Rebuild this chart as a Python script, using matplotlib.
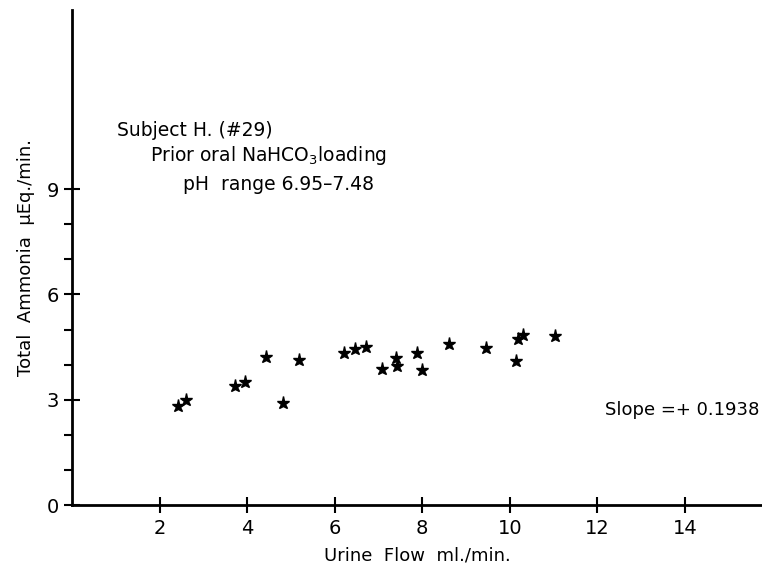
import matplotlib
matplotlib.use("Agg")
import numpy as np
from matplotlib import pyplot as plt
from matplotlib.ticker import FixedLocator

# urine flow (ml/min) and total ammonia (uEq/min)
flow = [2.41, 2.60, 3.72, 3.95, 4.42, 4.83, 5.19, 6.21, 6.47, 6.72, 7.07,
        7.40, 7.42, 7.87, 7.99, 8.60, 9.46, 10.15, 10.18, 10.31, 11.04]
ammonia = [2.81, 2.98, 3.38, 3.50, 4.23, 2.91, 4.13, 4.32, 4.45, 4.49, 3.87,
           4.18, 3.97, 4.32, 3.85, 4.58, 4.46, 4.09, 4.73, 4.85, 4.82]

x_ticks = [2, 4, 6, 8, 10, 12, 14]
y_major = [0, 3, 6, 9]
y_minor = [1, 2, 4, 5, 7, 8]

plt.rcParams["font.family"] = ["DejaVu Sans"]

fig = plt.figure(figsize=(7.62, 5.63), dpi=100)
ax = fig.add_axes([0.0945, 0.103, 0.9055, 0.879])

ax.plot(flow, ammonia, linestyle="none", marker="*", markersize=9.5,
        color="black", markeredgewidth=1.0)

ax.set_xlim(0, 15.76)
ax.set_ylim(0, 14.1)

for s in ["top", "right"]:
    ax.spines[s].set_visible(False)
for s in ["left", "bottom"]:
    ax.spines[s].set_linewidth(2)

ax.xaxis.set_major_locator(FixedLocator(x_ticks))
ax.yaxis.set_major_locator(FixedLocator(y_major))
ax.yaxis.set_minor_locator(FixedLocator(y_minor))
ax.tick_params(axis="both", which="major", direction="inout", length=12,
               width=1.5, labelsize=14)
ax.tick_params(axis="y", which="minor", direction="out", length=6, width=1.5)
ax.tick_params(axis="x", pad=4)

ax.set_xlabel("Urine  Flow  ml./min.", fontsize=13, labelpad=6)
ax.set_ylabel("Total  Ammonia  \u03bcEq./min.", fontsize=13, labelpad=8)

ax.text(1.02, 10.68, "Subject H. (#29)", fontsize=13.5, va="center")
ax.text(1.77, 9.97, r"Prior oral NaHCO$_3$loading", fontsize=13.5, va="center")
ax.text(2.53, 9.12, "pH  range 6.95\u20137.48", fontsize=13.5, va="center")
ax.text(15.70, 2.71, "Slope =+ 0.1938", fontsize=13, va="center", ha="right")

fig.savefig("out.png", dpi=100)
